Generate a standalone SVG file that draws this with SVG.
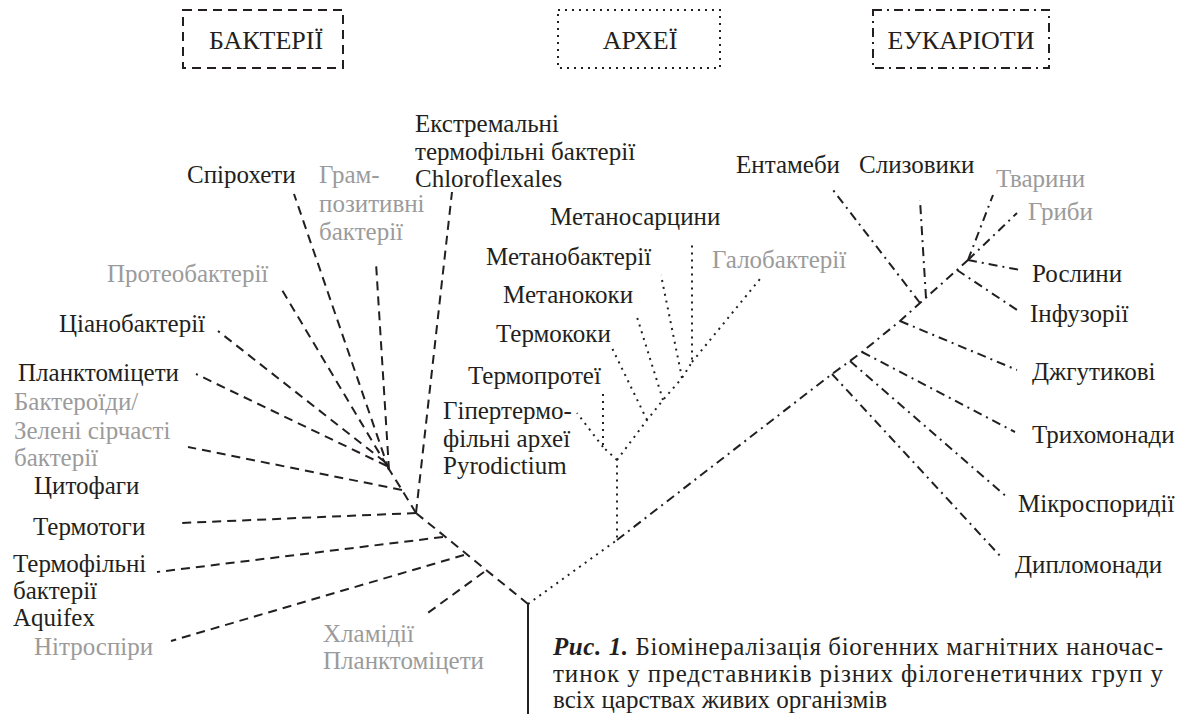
<svg xmlns="http://www.w3.org/2000/svg" width="1184" height="714" viewBox="0 0 1184 714">
<style>
.t{font-family:"Liberation Serif","DejaVu Serif",serif;font-size:25px;fill:#231f20}
.g{fill:#9b9b9b}
.h{font-size:26px}
.c{font-family:"Liberation Serif","DejaVu Serif",serif;font-size:25px;fill:#231f20}
.ln{fill:none;stroke:#231f20;stroke-width:2}
.bac{stroke-dasharray:9 6}
.arc{stroke-dasharray:2 5;stroke-width:2}
.euk{stroke-dasharray:9 5 2 5}
</style>
<rect width="1184" height="714" fill="#ffffff"/>
<g id="headers">
<g id="box-bacteria"><rect class="ln bac" x="183" y="10" width="160" height="58"/><text class="t h" x="266" y="49" text-anchor="middle">БАКТЕРІЇ</text></g>
<g id="box-archaea"><rect class="ln arc" x="558" y="10" width="162" height="58"/><text class="t h" x="640" y="49" text-anchor="middle">АРХЕЇ</text></g>
<g id="box-eukaryotes"><rect class="ln euk" x="873" y="10" width="176" height="58"/><text class="t h" x="961" y="49" text-anchor="middle">ЕУКАРІОТИ</text></g>
</g>
<g id="connectors">
<line class="ln" x1="528" y1="604" x2="528" y2="714"/>
<g class="ln bac">
<path d="M528,604 L416,513"/>
<path d="M484,572 L425,615"/>
<path d="M464,555 L171,641"/>
<path d="M443,537 L157,572"/>
<path d="M416,513 L182,523"/>
<path d="M416,513 L452,192"/>
<path d="M416,513 L402,490 L387,466"/>
<path d="M402,490 L188,447"/>
<path d="M387,466 L196,374"/>
<path d="M385,462 L218,331"/>
<path d="M387,466 L282,290"/>
<path d="M389,470 L294,194"/>
<path d="M389,470 L376,263"/>
</g>
<g class="ln arc">
<path d="M528,604 L617,540 L617,460"/>
<path d="M617,460 L603,447 L603,392"/>
<path d="M603,447 L577,413"/>
<path d="M617,460 L647,420 L663,400 L682,378 L692,362 L692,244"/>
<path d="M647,420 L612,348"/>
<path d="M663,400 L637,317"/>
<path d="M682,378 L661,275"/>
<path d="M692,362 L760,279"/>
</g>
<g class="ln euk">
<path d="M617,540 L832,374 L850,361 L862,352 L900,321 L920,303 L957,270 L968,260"/>
<path d="M832,374 L1002,558"/>
<path d="M850,361 L1008,498"/>
<path d="M862,352 L1015,432"/>
<path d="M900,321 L1017,370"/>
<path d="M920,303 L833,190"/>
<path d="M926,298 L920,200"/>
<path d="M957,270 L1017,310"/>
<path d="M968,260 L1020,270"/>
<path d="M968,260 L993,195"/>
<path d="M968,260 L1017,213"/>
</g>
</g>
<g id="bacteria-labels">
<g id="n-spirochetes"><text class="t" x="187" y="183">Спірохети</text></g>
<g id="n-grampos"><text class="t g" x="319" y="183">Грам-</text><text class="t g" x="319" y="212">позитивні</text><text class="t g" x="319" y="240">бактерії</text></g>
<g id="n-chloroflexales"><text class="t" x="415" y="132">Екстремальні</text><text class="t" x="415" y="160">термофільні бактерії</text><text class="t" x="415" y="187">Chloroflexales</text></g>
<g id="n-proteo"><text class="t g" x="107" y="282">Протеобактерії</text></g>
<g id="n-cyano"><text class="t" x="59" y="332">Ціанобактерії</text></g>
<g id="n-plancto"><text class="t" x="18" y="381">Планктоміцети</text></g>
<g id="n-bacteroid"><text class="t g" x="14" y="410">Бактероїди/</text><text class="t g" x="14" y="439">Зелені сірчасті</text><text class="t g" x="14" y="466">бактерії</text></g>
<g id="n-cytophag"><text class="t" x="34" y="494">Цитофаги</text></g>
<g id="n-thermotog"><text class="t" x="33" y="535">Термотоги</text></g>
<g id="n-aquifex"><text class="t" x="13" y="572">Термофільні</text><text class="t" x="13" y="599">бактерії</text><text class="t" x="13" y="626">Aquifex</text></g>
<g id="n-nitrospira"><text class="t g" x="34" y="655">Нітроспіри</text></g>
<g id="n-chlamydia"><text class="t g" x="323" y="642">Хламідії</text><text class="t g" x="323" y="669">Планктоміцети</text></g>
</g>
<g id="archaea-labels">
<g id="n-metsarc"><text class="t" x="550" y="225">Метаносарцини</text></g>
<g id="n-metbact"><text class="t" x="486" y="265">Метанобактерії</text></g>
<g id="n-halo"><text class="t g" x="712" y="268">Галобактерії</text></g>
<g id="n-metcocc"><text class="t" x="503" y="303">Метанококи</text></g>
<g id="n-thermococ"><text class="t" x="496" y="342">Термококи</text></g>
<g id="n-thermoprot"><text class="t" x="468" y="384">Термопротеї</text></g>
<g id="n-pyrodict"><text class="t" x="443" y="419">Гіпертермо-</text><text class="t" x="443" y="447">фільні археї</text><text class="t" x="443" y="474">Pyrodictium</text></g>
</g>
<g id="eukaryote-labels">
<g id="n-entamoeba"><text class="t" x="736" y="173">Ентамеби</text></g>
<g id="n-slime"><text class="t" x="859" y="173">Слизовики</text></g>
<g id="n-animals"><text class="t g" x="996" y="187">Тварини</text></g>
<g id="n-fungi"><text class="t g" x="1028" y="220">Гриби</text></g>
<g id="n-plants"><text class="t" x="1032" y="282">Рослини</text></g>
<g id="n-ciliates"><text class="t" x="1030" y="322">Інфузорії</text></g>
<g id="n-flagel"><text class="t" x="1032" y="380">Джгутикові</text></g>
<g id="n-tricho"><text class="t" x="1032" y="443">Трихомонади</text></g>
<g id="n-microsp"><text class="t" x="1018" y="512">Мікроспоридії</text></g>
<g id="n-diplo"><text class="t" x="1015" y="573">Дипломонади</text></g>
</g>
<g id="caption">
<text class="c" x="553" y="655" textLength="610"><tspan font-weight="bold" font-style="italic">Рис. 1.</tspan> Біомінералізація біогенних магнітних наночас-</text>
<text class="c" x="553" y="682" textLength="610">тинок у представників різних філогенетичних груп у</text>
<text class="c" x="553" y="708">всіх царствах живих організмів</text>
</g>
</svg>
